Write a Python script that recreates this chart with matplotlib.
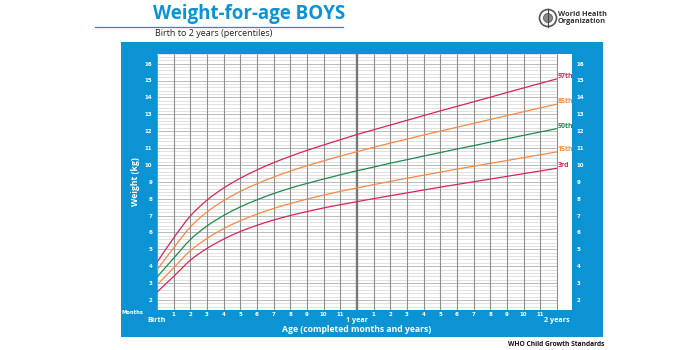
import numpy as np
import matplotlib.pyplot as plt
from matplotlib.patches import Rectangle, Ellipse, PathPatch
from matplotlib.path import Path
from matplotlib.lines import Line2D

# WHO weight-for-age, boys, birth to 24 months (kg)
months = list(range(0, 25))
p3 = [2.46, 3.39, 4.35, 5.05, 5.60, 6.05, 6.42, 6.73, 7.00, 7.23, 7.45, 7.64, 7.82,
      8.00, 8.17, 8.34, 8.51, 8.68, 8.84, 9.00, 9.16, 9.32, 9.48, 9.64, 9.80]
p15 = [2.88, 3.90, 4.91, 5.64, 6.22, 6.69, 7.08, 7.42, 7.71, 7.97, 8.21, 8.43, 8.63,
       8.83, 9.02, 9.21, 9.39, 9.57, 9.75, 9.92, 10.09, 10.26, 10.43, 10.60, 10.77]
p50 = [3.35, 4.47, 5.57, 6.38, 7.00, 7.51, 7.93, 8.30, 8.62, 8.90, 9.16, 9.41, 9.65,
       9.87, 10.10, 10.31, 10.52, 10.73, 10.94, 11.14, 11.35, 11.55, 11.75, 11.95, 12.15]
p85 = [3.78, 5.08, 6.32, 7.21, 7.88, 8.43, 8.88, 9.28, 9.63, 9.95, 10.24, 10.52, 10.78,
       11.04, 11.29, 11.53, 11.77, 12.00, 12.23, 12.46, 12.69, 12.92, 13.15, 13.38, 13.60]
p97 = [4.23, 5.67, 6.97, 7.91, 8.63, 9.21, 9.70, 10.13, 10.51, 10.86, 11.18, 11.49, 11.80,
       12.08, 12.36, 12.64, 12.92, 13.20, 13.47, 13.74, 14.01, 14.29, 14.56, 14.83, 15.10]
curve_labels = ['97th', '85th', '50th', '15th', '3rd']
month_labels = [''] + [str(m) for m in range(1, 12)] + [''] + [str(m) for m in range(1, 12)] + ['']
kg_ticks = list(range(2, 17))

BLUE = '#0b93d4'
RED = '#d7255a'
ORANGE = '#f28a45'
GREEN = '#1e8a4e'
W, H = 700, 350

fig = plt.figure(figsize=(7, 3.5), dpi=100)
fig.patch.set_facecolor('white')

def fx(px):
    return px / W

def fy(py):
    return 1 - py / H

def smooth_path(xs, ys):
    # Catmull-Rom through the points, written as cubic Bezier segments
    pts = np.column_stack([xs, ys]).astype(float)
    verts = [pts[0]]
    codes = [Path.MOVETO]
    n = len(pts)
    for i in range(n - 1):
        p0 = pts[max(i - 1, 0)]
        p1 = pts[i]
        p2 = pts[i + 1]
        p3_ = pts[min(i + 2, n - 1)]
        c1 = p1 + (p2 - p0) / 6
        c2 = p2 - (p3_ - p1) / 6
        verts += [c1, c2, p2]
        codes += [Path.CURVE4] * 3
    return Path(verts, codes)

# blue frame behind the grid
fig.add_artist(Rectangle((fx(121), fy(337)), fx(603) - fx(121), fy(42) - fy(337),
                         transform=fig.transFigure, facecolor=BLUE, edgecolor='none', zorder=0))

# header
fig.text(fx(249), fy(14), 'Weight-for-age BOYS', color=BLUE, fontsize=13.5,
         fontweight='bold', family='Open Sans', ha='center', va='center')
fig.add_artist(Line2D([fx(95), fx(343)], [fy(26.5), fy(26.5)], transform=fig.transFigure,
                      color=BLUE, lw=0.9))
fig.text(fx(155), fy(33), 'Birth to 2 years (percentiles)', color='#222222', fontsize=6.5,
         family='Open Sans', ha='left', va='center')

# WHO emblem and name
fig.add_artist(Ellipse((fx(548), fy(18)), 17 / W, 17 / H, transform=fig.transFigure,
                       facecolor='white', edgecolor='#555555', lw=1.2))
fig.add_artist(Ellipse((fx(548), fy(18)), 9 / W, 9 / H, transform=fig.transFigure,
                       facecolor='#8a8a8a', edgecolor='#555555', lw=0.6))
fig.add_artist(Line2D([fx(548), fx(548)], [fy(9), fy(27)], transform=fig.transFigure,
                      color='#444444', lw=0.8))
fig.text(fx(558), fy(18), 'World Health\nOrganization', color='#333333', fontsize=5.3,
         fontweight='bold', family='Open Sans', ha='left', va='center', linespacing=0.95)
fig.text(fx(604), fy(345), 'WHO Child Growth Standards', color='#111111', fontsize=4.8,
         fontweight='bold', family='Open Sans', ha='right', va='center')

x0, x1 = 0, 24.9
y0, y1 = 1.4, 16.6
ax = fig.add_axes([fx(157), fy(310), fx(572) - fx(157), fy(53.5) - fy(310)])
ax.set_facecolor('white')
ax.set_xlim(x0, x1)
ax.set_ylim(y0, y1)
for s in ax.spines.values():
    s.set_visible(False)

# grid
for y in np.arange(1.4, 16.61, 0.2):
    major = abs(y - round(y)) < 1e-6
    ax.hlines(y, 0, 24, color='#b0b0b0' if major else '#dcdcdc', lw=0.6, zorder=1)
for m in months:
    ax.vlines(m, y0, y1, color='#777777' if m == 12 else '#8f8f8f',
              lw=1.7 if m == 12 else 0.8, zorder=2)

series = [p97, p85, p50, p15, p3]
colors = [RED, ORANGE, GREEN, ORANGE, RED]
for vals, c, lab in zip(series, colors, curve_labels):
    ax.add_patch(PathPatch(smooth_path(months, vals), facecolor='none', edgecolor=c,
                           lw=0.9, zorder=3))
    ax.text(24.04, vals[-1] + 0.15, lab, color=c, fontsize=5.0, fontweight='bold',
            family='Open Sans', ha='left', va='center', zorder=4)

ax.set_xticks(months)
ax.set_xticklabels(month_labels)
ax.set_yticks(kg_ticks)
ax.tick_params(axis='both', length=0, colors='white', labelsize=4)
ax.tick_params(axis='x', pad=1.5)
ax.tick_params(axis='y', labelleft=True, labelright=True, pad=3.5)
for t in ax.get_xticklabels() + ax.get_yticklabels():
    t.set_fontweight('bold')

fig.text(fx(133), fy(313), 'Months', color='white', fontsize=3.8, fontweight='bold',
         ha='center', va='center')
fig.text(fx(157), fy(320.5), 'Birth', color='white', fontsize=5.2, fontweight='bold',
         family='Open Sans', ha='center', va='center')
fig.text(fx(357), fy(320.5), '1 year', color='white', fontsize=5.2, fontweight='bold',
         family='Open Sans', ha='center', va='center')
fig.text(fx(557), fy(320.5), '2 years', color='white', fontsize=5.2, fontweight='bold',
         family='Open Sans', ha='center', va='center')
fig.text(fx(357), fy(330), 'Age (completed months and years)', color='white', fontsize=6.2,
         fontweight='bold', family='Open Sans', ha='center', va='center')
fig.text(fx(135), fy(182), 'Weight (kg)', color='white', fontsize=6.2, fontweight='bold',
         family='Open Sans', ha='center', va='center', rotation=90)

fig.savefig('out.png', dpi=100)
